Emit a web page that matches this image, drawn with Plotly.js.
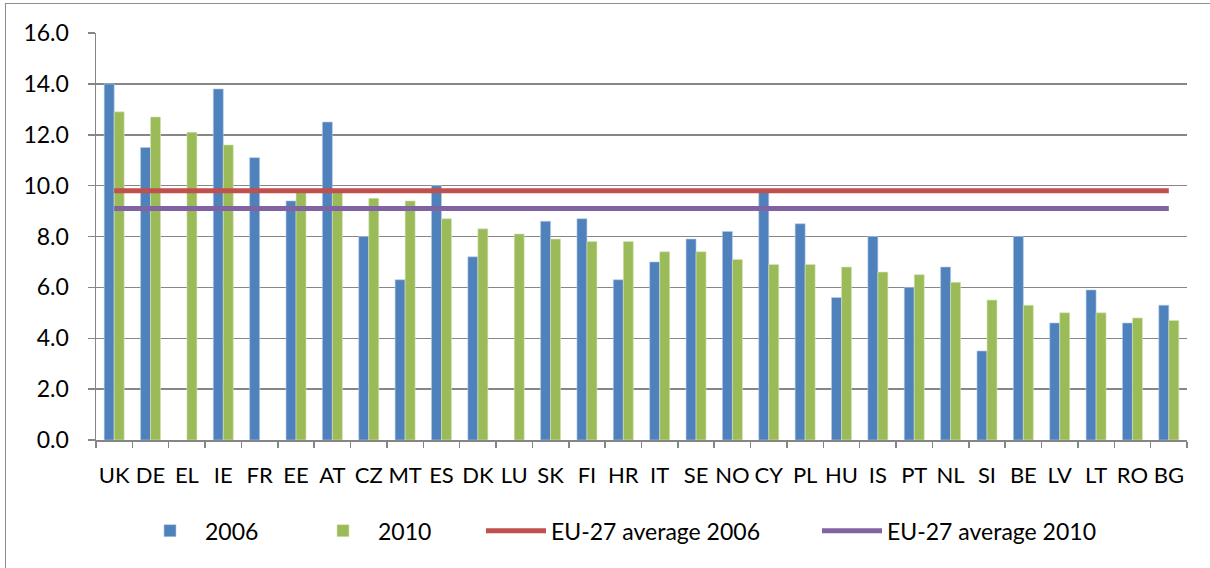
<!DOCTYPE html>
<html>
<head>
<meta charset="utf-8">
<script src="https://cdn.plot.ly/plotly-3.0.1.min.js"></script>
<style>
  body { margin: 0; background: #fff; }
  #grafico { width: 1210px; height: 568px; }
  #marco { position: absolute; left: 5px; top: 3px; width: 1300px; height: 700px;
           border: 1.5px solid #8c8c8c; pointer-events: none; }
</style>
</head>
<body>
<div id="grafico"></div>
<div id="marco"></div>
<script>
// paises y valores
var paises = ["UK", "DE", "EL", "IE", "FR", "EE", "AT", "CZ", "MT", "ES",
              "DK", "LU", "SK", "FI", "HR", "IT", "SE", "NO", "CY", "PL",
              "HU", "IS", "PT", "NL", "SI", "BE", "LV", "LT", "RO", "BG"];
var valores2006 = [14.0, 11.5, null, 13.8, 11.1, 9.4, 12.5, 8.0, 6.3, 10.0,
                   7.2, null, 8.6, 8.7, 6.3, 7.0, 7.9, 8.2, 9.8, 8.5,
                   5.6, 8.0, 6.0, 6.8, 3.5, 8.0, 4.6, 5.9, 4.6, 5.3];
var valores2010 = [12.9, 12.7, 12.1, 11.6, null, 9.8, 9.8, 9.5, 9.4, 8.7,
                   8.3, 8.1, 7.9, 7.8, 7.8, 7.4, 7.4, 7.1, 6.9, 6.9,
                   6.8, 6.6, 6.5, 6.2, 5.5, 5.3, 5.0, 5.0, 4.8, 4.7];
var media2006 = 9.8;
var media2010 = 9.1;

var fuente = "Lato, 'Open Sans', sans-serif";

var data = [
  { x: paises, y: valores2006, type: "bar", name: "2006", legend: "legend",
    marker: { color: "#4F81BD", line: { color: "#b9cde5", width: 0.6 } } },
  { x: paises, y: valores2010, type: "bar", name: "2010", legend: "legend2",
    marker: { color: "#9BBB59", line: { color: "#d7e4bd", width: 0.6 } } },
  { x: paises, y: paises.map(function () { return media2006; }),
    type: "scatter", mode: "lines", name: "EU-27 average 2006", legend: "legend3",
    line: { color: "#C0504D", width: 5 } },
  { x: paises, y: paises.map(function () { return media2010; }),
    type: "scatter", mode: "lines", name: "EU-27 average 2010", legend: "legend4",
    line: { color: "#8064A2", width: 5 } }
];

// una leyenda por serie para repartirlas como en el original
function leyenda(px) {
  return { orientation: "h", x: (px - 96) / 1091, xanchor: "left", y: -0.17, yanchor: "top",
           font: { family: fuente, size: 23 }, itemwidth: 60, bgcolor: "rgba(0,0,0,0)" };
}

var layout = {
  width: 1210, height: 568,
  margin: { l: 96, r: 23, t: 33, b: 128 },
  paper_bgcolor: "#fff", plot_bgcolor: "#fff",
  font: { family: fuente, size: 22, color: "#000" },
  barmode: "group", bargap: 0.45, bargroupgap: 0,
  showlegend: true,
  legend: leyenda(135),
  legend2: leyenda(308),
  legend3: leyenda(481),
  legend4: leyenda(817),
  xaxis: { type: "category", showline: true, linecolor: "#868686", linewidth: 1.5,
           ticks: "outside", tickson: "boundaries", ticklen: 6, tickcolor: "#868686",
           tickwidth: 1.5, ticklabelstandoff: 15, showgrid: false, tickangle: 0,
           tickfont: { family: fuente, size: 22 } },
  yaxis: { range: [0, 16], dtick: 2, tickformat: ".1f", showline: true,
           linecolor: "#868686", linewidth: 1.5, ticks: "outside", ticklen: 7,
           tickcolor: "#868686", tickwidth: 1.5, gridcolor: "#868686", gridwidth: 1.5,
           zeroline: false, ticklabelstandoff: 14, tickfont: { family: fuente, size: 23 } }
};

Plotly.newPlot("grafico", data, layout, { staticPlot: true });
</script>
</body>
</html>
